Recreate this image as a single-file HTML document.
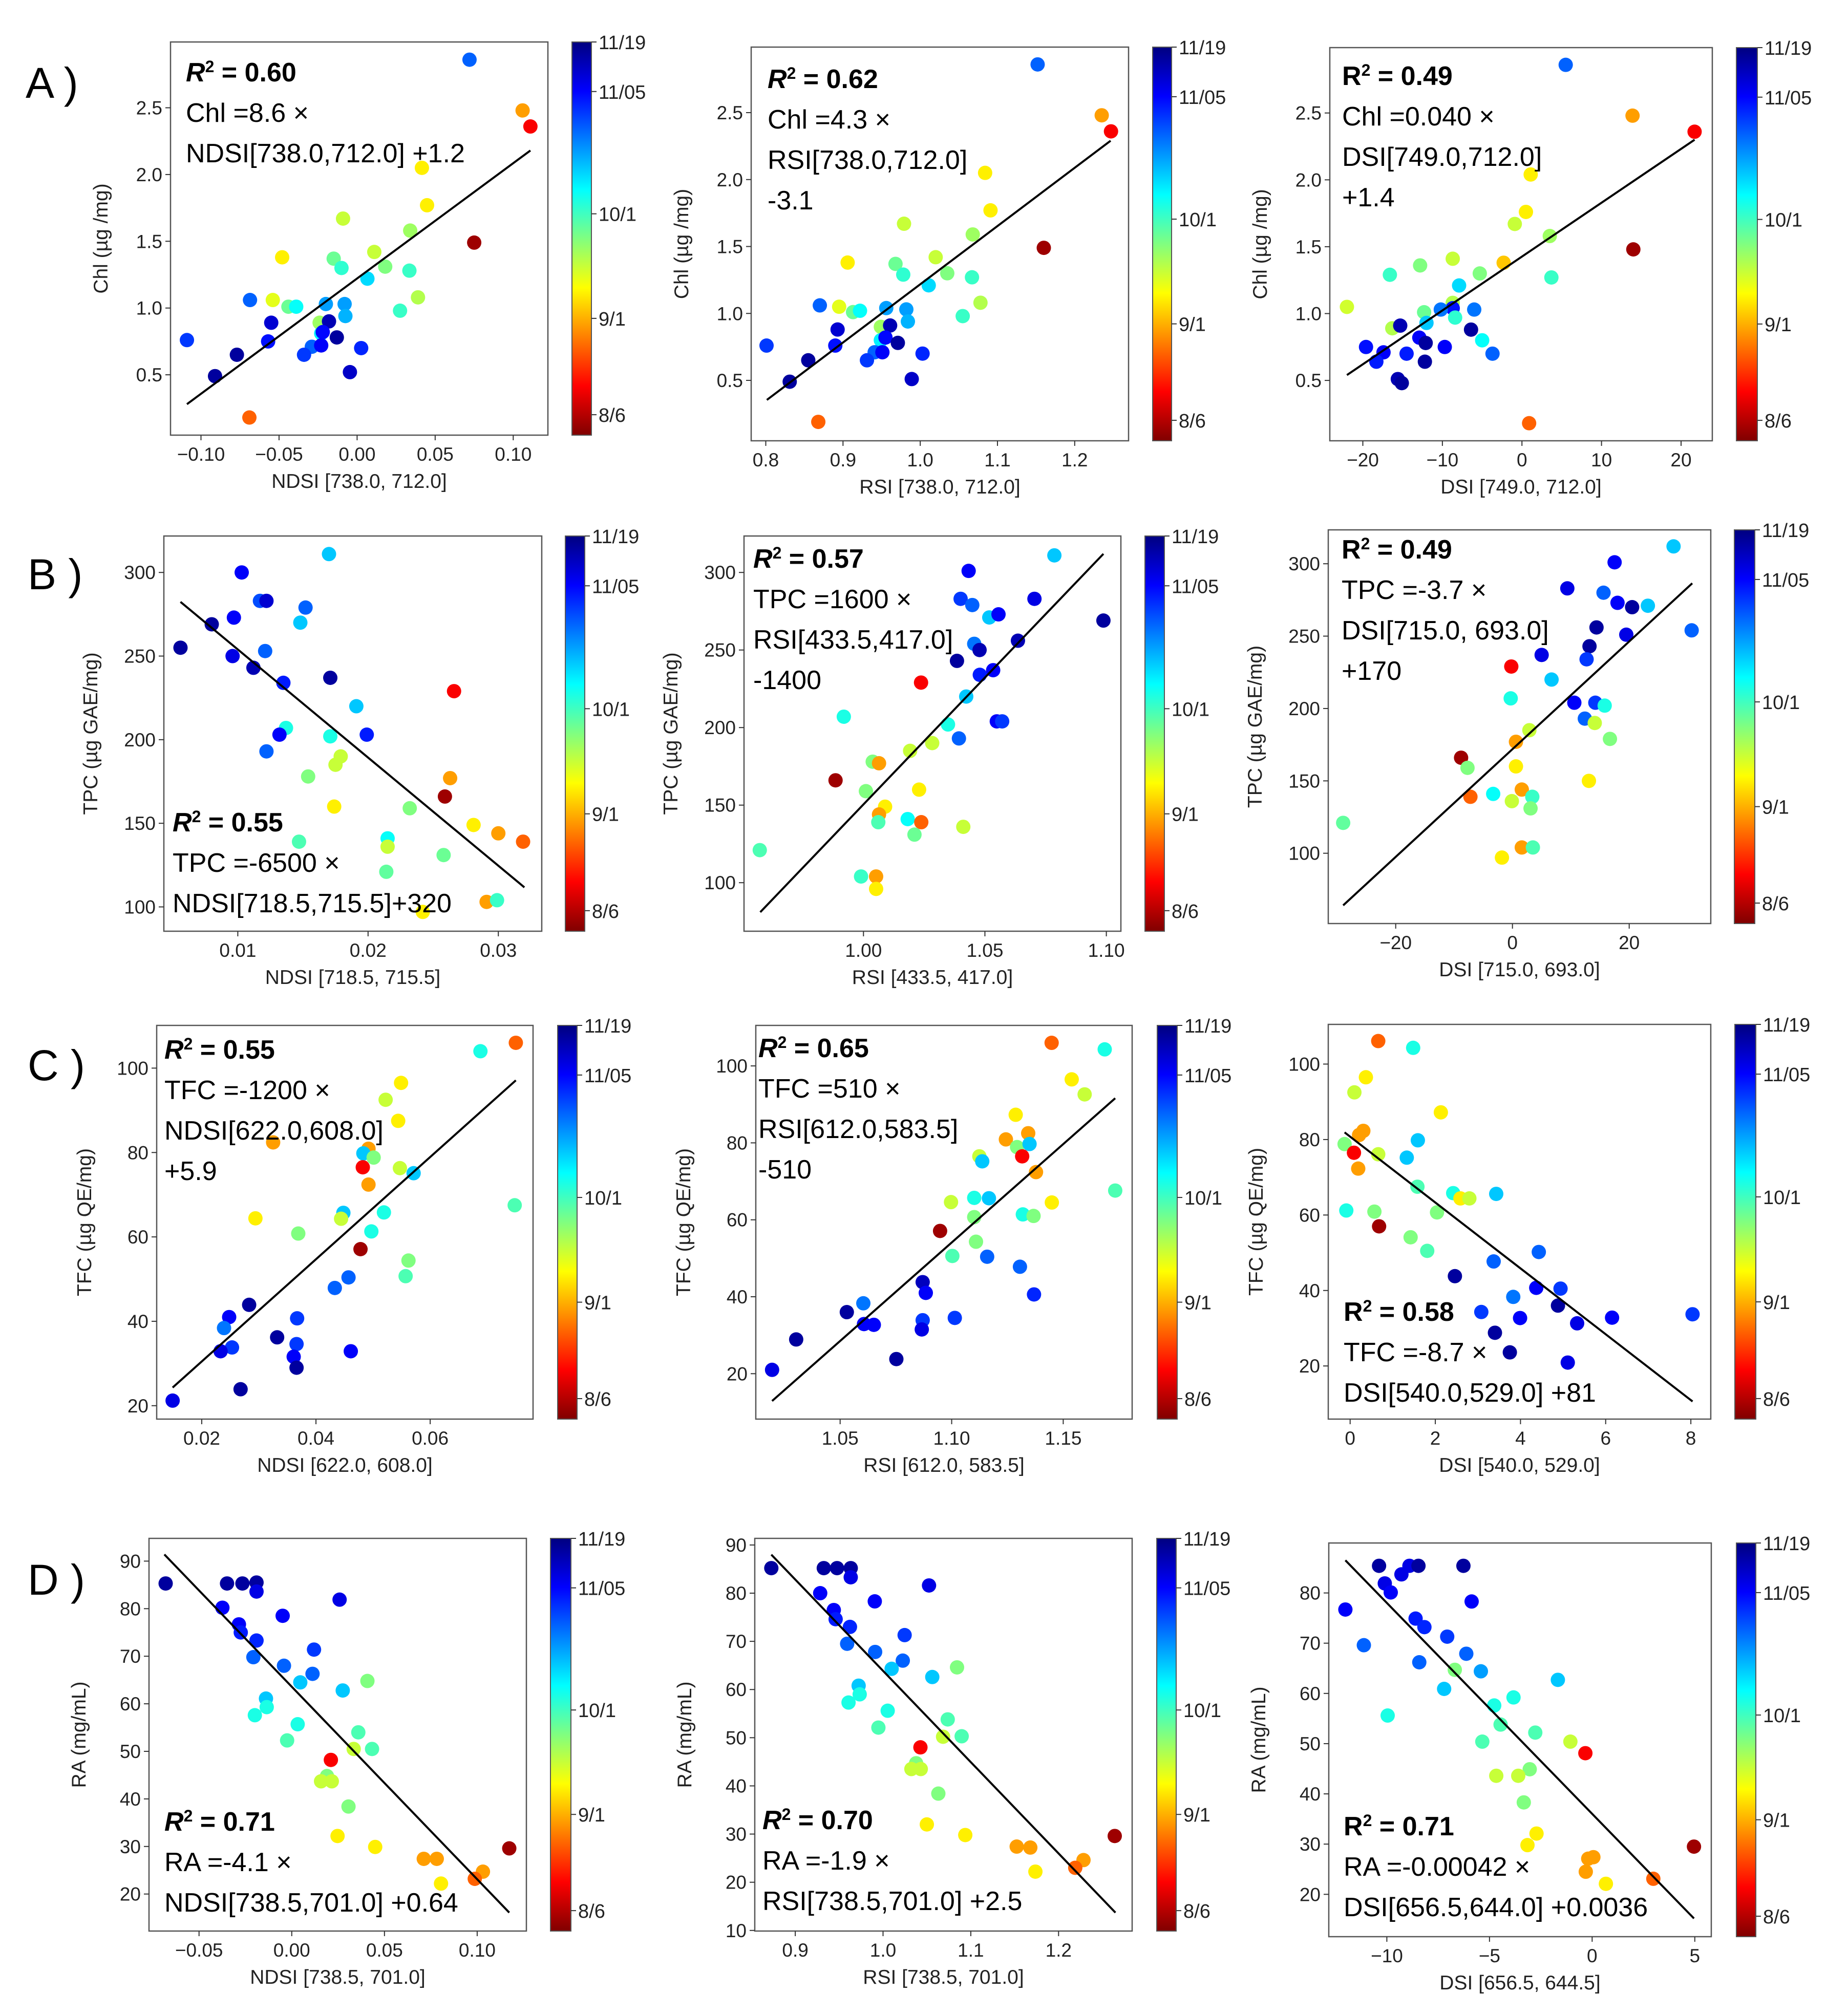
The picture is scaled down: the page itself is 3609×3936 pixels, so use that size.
<!DOCTYPE html>
<html><head><meta charset="utf-8"><title>Vegetation index regressions</title>
<style>
html,body{margin:0;padding:0;background:#fff;}
svg{display:block;font-family:"Liberation Sans",Arial,sans-serif;}
</style></head>
<body>
<svg id="fig" width="3609" height="3936" viewBox="0 0 3609 3936" xmlns="http://www.w3.org/2000/svg">
<defs>
<linearGradient id="jetgrad" x1="0" y1="1" x2="0" y2="0">
<stop offset="0" stop-color="rgb(128,0,0)"/>
<stop offset="0.125" stop-color="rgb(255,0,0)"/>
<stop offset="0.375" stop-color="rgb(255,255,0)"/>
<stop offset="0.5" stop-color="rgb(128,255,128)"/>
<stop offset="0.625" stop-color="rgb(0,255,255)"/>
<stop offset="0.875" stop-color="rgb(0,0,255)"/>
<stop offset="1" stop-color="rgb(0,0,128)"/>
</linearGradient>
</defs>
<text x="50" y="191" font-size="84">A )</text>
<text x="54" y="1151" font-size="84">B )</text>
<text x="54" y="2110" font-size="84">C )</text>
<text x="54" y="3115" font-size="84">D )</text>
</svg>
<script>
// ---------- data ----------
const a1X=[0.072,0.106,0.111,0.0415,0.0448,-0.009,0.034,0.075,-0.048,-0.015,0.011,-0.01,0.018,0.0335,0.0066,0.039,-0.0686,-0.054,-0.044,-0.039,-0.02,-0.008,0.0275,-0.0075,-0.055,-0.024,-0.018,-0.023,-0.022,-0.013,-0.057,-0.109,-0.029,-0.023,0.0026,-0.077,-0.034,-0.0046,-0.091,-0.069];
const a1Y=[2.86,2.48,2.36,2.05,1.77,1.67,1.58,1.49,1.38,1.37,1.42,1.30,1.31,1.28,1.22,1.08,1.06,1.06,1.01,1.01,1.03,1.03,0.98,0.94,0.89,0.89,0.90,0.81,0.82,0.78,0.75,0.76,0.71,0.72,0.70,0.65,0.65,0.52,0.49,0.18];
const a1T=[0.78,0.28,0.12,0.36,0.36,0.43,0.47,0.03,0.36,0.52,0.43,0.58,0.5,0.57,0.66,0.45,0.78,0.4,0.52,0.62,0.72,0.72,0.57,0.7,0.92,0.47,0.95,0.64,0.87,0.97,0.86,0.82,0.78,0.88,0.84,0.97,0.82,0.93,0.97,0.22];
const a1LX=[-0.109,0.111], a1LY=[0.28,2.18];

const a2X=[1.152,1.235,1.247,1.084,1.091,0.979,1.068,1.16,0.906,0.968,1.02,0.978,1.035,1.067,1.011,1.078,0.870,0.895,0.913,0.922,0.956,0.982,1.055,0.984,0.893,0.949,0.961,0.949,0.955,0.971,0.890,0.801,0.941,0.951,1.003,0.855,0.931,0.989,0.831,0.868];
const a2Y=[2.86,2.48,2.36,2.05,1.77,1.67,1.59,1.49,1.38,1.37,1.42,1.29,1.30,1.27,1.21,1.08,1.06,1.05,1.01,1.02,1.04,1.03,0.98,0.94,0.88,0.90,0.91,0.80,0.82,0.78,0.76,0.76,0.71,0.71,0.70,0.65,0.65,0.51,0.49,0.19];
const a2T=[0.78,0.28,0.12,0.36,0.36,0.43,0.47,0.03,0.36,0.52,0.43,0.58,0.5,0.57,0.66,0.45,0.78,0.4,0.52,0.62,0.72,0.72,0.57,0.7,0.92,0.47,0.95,0.64,0.87,0.97,0.86,0.82,0.78,0.88,0.84,0.97,0.82,0.93,0.97,0.22];
const a2LX=[0.8014,1.2465], a2LY=[0.354,2.29];

const a3X=[5.5,13.9,21.7,1.1,0.5,-0.9,3.5,14,-8.7,-12.8,-2.3,-16.6,-5.3,3.7,-7.9,-22,-8.7,-8.7,-10.2,-6,-12.3,-8.4,-12,-16.3,-15.3,-6.4,-12.9,-12.1,-5,-19.6,-9.7,-17.4,-14.5,-3.7,-18.3,-12.2,-15.6,-15.1,0.9];
const a3Y=[2.86,2.48,2.36,2.04,1.76,1.67,1.58,1.48,1.41,1.36,1.38,1.29,1.30,1.27,1.21,1.05,1.08,1.04,1.03,1.03,1.01,0.97,0.93,0.89,0.91,0.88,0.82,0.78,0.80,0.75,0.75,0.71,0.70,0.70,0.64,0.64,0.51,0.48,0.18];
const a3T=[0.78,0.28,0.12,0.36,0.36,0.43,0.47,0.03,0.43,0.5,0.32,0.57,0.5,0.57,0.66,0.42,0.45,0.86,0.76,0.76,0.52,0.58,0.68,0.45,0.95,0.97,0.88,0.97,0.62,0.86,0.88,0.88,0.85,0.78,0.85,0.97,0.95,0.97,0.22];
const a3LX=[-22,21.7], a3LY=[0.54,2.30];

const b1X=[0.0170,0.0103,0.0117,0.0122,0.0152,0.0097,0.0148,0.0080,0.0056,0.0121,0.0096,0.0112,0.0171,0.0135,0.0266,0.0191,0.0137,0.0132,0.0171,0.0199,0.0122,0.0179,0.0175,0.0154,0.0263,0.0259,0.0174,0.0232,0.0281,0.0300,0.0319,0.0147,0.0215,0.0215,0.0258,0.0214,0.0291,0.0299,0.0242];
const b1Y=[311,300,283,283,279,273,270,269,255,253,250,243,237,234,229,220,207,203,202,203,193,190,185,178,177,166,160,159,149,144,139,139,141,136,131,121,103,104,97];
const b1T=[0.68,0.88,0.8,0.92,0.78,0.88,0.68,0.97,0.97,0.78,0.9,0.95,0.97,0.85,0.12,0.68,0.6,0.88,0.6,0.85,0.78,0.43,0.43,0.5,0.28,0.03,0.36,0.5,0.36,0.28,0.22,0.55,0.62,0.43,0.52,0.53,0.28,0.57,0.36];
const b1LX=[0.0056,0.032], b1LY=[282.4,111.7];

const b2X=[1.0786,1.0433,1.040,1.0448,1.0704,1.0518,1.0556,1.0988,1.0456,1.0478,1.0636,1.0385,1.0534,1.0479,1.0237,1.0423,0.9919,1.0348,1.0549,1.0571,1.0393,1.0283,1.0192,1.0038,1.0064,0.9885,1.0229,1.0010,1.0089,1.0064,1.0061,1.0182,1.0238,1.0411,1.0210,0.9573,0.9990,1.0052,1.0052];
const b2Y=[311,301,283,279,283,271,273,269,254,250,256,243,237,234,229,220,207,202,204,204,193,190,185,178,177,166,160,159,149,144,139,141,139,136,131,121,104,104,96];
const b2T=[0.68,0.88,0.82,0.78,0.9,0.68,0.88,0.97,0.76,0.95,0.95,0.97,0.88,0.85,0.12,0.68,0.6,0.6,0.88,0.82,0.78,0.43,0.43,0.5,0.28,0.03,0.36,0.5,0.36,0.28,0.55,0.62,0.22,0.43,0.52,0.55,0.57,0.28,0.36];
const b2LX=[0.9575,1.0988], b2LY=[81,312];

const b3X=[27.6,17.5,9.4,15.6,18.0,20.5,23.2,14.4,30.7,19.5,13.2,5.0,12.7,-0.2,6.7,-0.3,10.6,14.2,15.8,12.4,14.1,2.9,16.7,0.6,-8.8,-7.7,0.6,13.1,1.6,-3.3,3.4,-7.2,-0.1,3.1,-29,1.6,3.5,-1.8];
const b3Y=[312,301,283,280,273,270,271,256,254,251,243,237,234,229,220,207,204,204,202,193,190,185,179,177,166,159,160,150,144,141,139,139,136,131,121,104,104,97];
const b3T=[0.68,0.88,0.9,0.78,0.88,0.97,0.68,0.97,0.78,0.9,0.97,0.9,0.82,0.12,0.68,0.6,0.88,0.82,0.6,0.78,0.43,0.43,0.5,0.28,0.03,0.5,0.36,0.36,0.28,0.62,0.57,0.22,0.43,0.5,0.53,0.28,0.55,0.36];
const b3LX=[-29,30.8], b3LY=[64,286.5];

const c1X=[0.0750,0.0688,0.0549,0.0522,0.0544,0.0325,0.0492,0.0483,0.0501,0.0482,0.0547,0.0571,0.0492,0.0748,0.0448,0.0444,0.0519,0.0294,0.0497,0.0369,0.0478,0.0562,0.0557,0.0457,0.0433,0.0283,0.0248,0.0367,0.0239,0.0332,0.0366,0.0253,0.0233,0.0461,0.0361,0.0366,0.0268,0.0149];
const c1Y=[106,104,96.5,92.5,87.5,82.4,80.9,79.8,78.8,76.5,76.3,75.1,72.4,67.5,65.7,64.3,65.8,64.4,61.3,60.8,57.1,54.4,50.7,50.4,47.9,43.9,41.0,40.7,38.4,36.2,34.6,33.8,32.9,32.9,31.6,29.0,23.9,21.2];
const c1T=[0.22,0.6,0.36,0.43,0.36,0.28,0.28,0.68,0.5,0.12,0.43,0.68,0.28,0.55,0.68,0.43,0.6,0.36,0.6,0.5,0.03,0.5,0.55,0.78,0.78,0.97,0.88,0.82,0.76,0.97,0.82,0.82,0.9,0.88,0.88,0.97,0.97,0.9];
const c1LX=[0.0149,0.075], c1LY=[24.3,97.1];

const c2X=[1.1448,1.1686,1.1538,1.1596,1.1287,1.1343,1.1243,1.1293,1.1349,1.1316,1.1124,1.1137,1.1378,1.1733,1.1101,1.1167,1.0997,1.1449,1.1319,1.1367,1.1101,1.0948,1.1109,1.1003,1.1159,1.1306,1.0870,1.0884,1.1369,1.0604,1.0530,1.1014,1.0870,1.0607,1.0651,1.0866,1.0303,1.0752,1.0195];
const c2Y=[106,104.3,96.5,92.6,87.3,82.5,80.9,78.9,79.7,76.5,76.5,75.2,72.4,67.6,65.7,65.6,64.6,64.5,61.4,61.0,60.7,57.1,54.3,50.6,50.4,47.8,43.8,41.0,40.6,38.3,36.0,34.5,33.9,32.9,32.7,31.5,28.9,23.8,21.0];
const c2T=[0.22,0.6,0.36,0.43,0.36,0.28,0.28,0.5,0.68,0.12,0.43,0.68,0.28,0.55,0.6,0.68,0.43,0.36,0.6,0.5,0.5,0.03,0.5,0.55,0.78,0.78,0.94,0.88,0.84,0.76,0.97,0.82,0.82,0.88,0.88,0.9,0.97,0.97,0.9];
const c2LX=[1.0195,1.1733], c2LY=[12.9,91.6];

const c3X=[0.66,1.48,0.37,0.10,2.13,0.31,0.21,1.59,-0.13,0.66,0.09,1.33,0.19,1.58,2.42,2.59,2.80,3.43,-0.09,0.57,2.04,0.68,1.42,1.81,4.43,3.37,2.46,4.37,4.94,3.83,4.88,3.08,8.04,3.99,6.15,5.33,3.40,3.75,5.11];
const c3Y=[106.1,104.3,96.5,92.5,87.2,82.3,81.2,79.8,78.8,76.1,76.5,75.2,72.3,67.5,65.8,64.4,64.4,65.6,61.2,60.9,60.7,57.0,54.1,50.5,50.2,47.7,43.8,40.7,40.5,38.3,36.0,34.3,33.7,32.7,32.8,31.3,28.8,23.6,20.9];
const c3T=[0.22,0.6,0.36,0.43,0.36,0.28,0.28,0.68,0.5,0.43,0.12,0.68,0.28,0.55,0.6,0.36,0.43,0.68,0.6,0.5,0.5,0.03,0.5,0.55,0.78,0.78,0.97,0.88,0.82,0.76,0.97,0.82,0.82,0.88,0.88,0.9,0.97,0.97,0.9];
const c3LX=[-0.13,8.04], c3LY=[81.9,10.6];

const d1X=[-0.068,-0.0349,-0.0266,-0.019,-0.019,0.0258,-0.0374,-0.0049,-0.0285,-0.0275,-0.019,0.012,-0.0207,-0.0042,0.0112,0.0046,0.0408,0.0275,-0.0139,-0.0135,-0.0199,0.0032,0.0359,-0.0025,0.0334,0.0433,0.0211,0.019,0.0158,0.0216,0.0306,0.0247,0.045,0.1173,0.0712,0.0782,0.1031,0.0987,0.0805];
const d1Y=[85.3,85.3,85.3,85.5,83.6,81.9,80.2,78.5,76.7,75.0,73.3,71.4,69.8,68.0,66.3,64.5,64.8,62.8,61.1,59.3,57.6,55.7,54.0,52.3,50.5,50.5,48.2,44.8,43.7,43.7,38.4,32.2,29.9,29.6,27.4,27.4,24.7,23.2,22.2];
const d1T=[0.97,0.97,0.97,0.97,0.9,0.9,0.88,0.88,0.88,0.85,0.84,0.82,0.78,0.78,0.78,0.68,0.5,0.68,0.68,0.6,0.6,0.6,0.55,0.55,0.43,0.55,0.12,0.5,0.43,0.43,0.5,0.36,0.36,0.03,0.28,0.28,0.28,0.22,0.36];
const d1LX=[-0.0687,0.1173], d1LY=[91.4,16.1];

const d2X=[0.8727,0.9325,0.9476,0.9632,0.9632,1.0524,0.9284,0.9906,0.9439,0.946,0.9623,1.0246,0.9591,0.991,1.0225,1.0098,1.0843,1.0561,0.9722,0.9734,0.9607,1.0053,1.0737,0.9947,1.0684,1.0896,1.0426,1.0377,1.0323,1.043,1.063,1.0499,1.0937,1.264,1.1523,1.1678,1.2284,1.219,1.1736];
const d2Y=[85.2,85.2,85.2,85.2,83.3,81.6,80.0,78.3,76.5,74.6,73.0,71.3,69.5,67.8,66.0,64.3,64.6,62.6,60.8,59.0,57.3,55.6,53.8,52.1,50.2,50.3,48.0,44.7,43.5,43.5,38.4,32.0,29.8,29.6,27.4,27.2,24.6,23.0,22.2];
const d2T=[0.97,0.97,0.97,0.97,0.9,0.9,0.88,0.88,0.88,0.85,0.84,0.82,0.78,0.78,0.78,0.68,0.5,0.68,0.68,0.6,0.6,0.6,0.55,0.55,0.43,0.55,0.12,0.5,0.43,0.43,0.5,0.36,0.36,0.03,0.28,0.28,0.28,0.22,0.36];
const d2LX=[0.8727,1.2648], d2LY=[88.0,13.7];

const d3X=[-10.38,-8.90,-8.46,-6.27,-9.29,-10.10,-9.81,-5.87,-12.02,-8.60,-8.17,-7.06,-11.12,-6.13,-8.42,-6.69,-5.42,-1.67,-7.21,-3.83,-4.77,-9.96,-4.46,-2.77,-5.35,-1.06,-0.33,-3.04,-4.67,-3.60,-3.33,-2.71,-3.15,4.96,-0.19,0.06,-0.31,2.98,0.67];
const d3Y=[85.4,85.4,85.4,85.4,83.7,81.9,80.1,78.3,76.7,74.9,73.2,71.3,69.6,67.9,66.2,64.7,64.4,62.7,60.9,59.2,57.6,55.6,53.8,52.2,50.4,50.4,48.1,44.9,43.6,43.6,38.3,32.1,29.8,29.5,27.1,27.4,24.5,23.1,22.1];
const d3T=[0.97,0.9,0.97,0.97,0.9,0.9,0.88,0.88,0.88,0.85,0.84,0.82,0.78,0.78,0.78,0.5,0.72,0.68,0.68,0.6,0.6,0.6,0.55,0.55,0.55,0.43,0.12,0.5,0.43,0.43,0.5,0.36,0.36,0.03,0.28,0.28,0.28,0.22,0.36];
const d3LX=[-12.02,4.96], d3LY=[86.5,15.2];

// tick values and labels
const xtA1=[-0.10,-0.05,0,0.05,0.10], xlA1=['\u22120.10','\u22120.05','0.00','0.05','0.10'];
const xtA2=[0.8,0.9,1.0,1.1,1.2], xlA2=['0.8','0.9','1.0','1.1','1.2'];
const xtA3=[-20,-10,0,10,20], xlA3=['\u221220','\u221210','0','10','20'];
const ytA=[0.5,1.0,1.5,2.0,2.5], ylA=['0.5','1.0','1.5','2.0','2.5'];
const xtB1=[0.01,0.02,0.03], xlB1=['0.01','0.02','0.03'];
const xtB2=[1.00,1.05,1.10], xlB2=['1.00','1.05','1.10'];
const xtB3=[-20,0,20], xlB3=['\u221220','0','20'];
const ytB=[100,150,200,250,300], ylB=['100','150','200','250','300'];
const xtC1=[0.02,0.04,0.06], xlC1=['0.02','0.04','0.06'];
const xtC2=[1.05,1.10,1.15], xlC2=['1.05','1.10','1.15'];
const xtC3=[0,2,4,6,8], xlC3=['0','2','4','6','8'];
const ytC=[20,40,60,80,100], ylC=['20','40','60','80','100'];
const xtD1=[-0.05,0,0.05,0.10], xlD1=['\u22120.05','0.00','0.05','0.10'];
const xtD2=[0.9,1.0,1.1,1.2], xlD2=['0.9','1.0','1.1','1.2'];
const xtD3=[-10,-5,0,5], xlD3=['\u221210','\u22125','0','5'];
const ytD1=[20,30,40,50,60,70,80,90], ylD1=['20','30','40','50','60','70','80','90'];
const ytD2=[10,20,30,40,50,60,70,80,90], ylD2=['10','20','30','40','50','60','70','80','90'];
const ytD3=[20,30,40,50,60,70,80], ylD3=['20','30','40','50','60','70','80'];
const cbFrac=[1,0.874,0.563,0.297,0.052], cbLab=['11/19','11/05','10/1','9/1','8/6'];

// ---------- rendering ----------
const NS='http://www.w3.org/2000/svg';
const svg=document.getElementById('fig');
function el(tag,attrs,parent){const e=document.createElementNS(NS,tag);for(const k in attrs)e.setAttribute(k,attrs[k]);(parent||svg).appendChild(e);return e;}
// t: 0 = 8/6 (dark red) ... 1 = 11/19 (navy)
function jet(t){const u=1-t;const c=x=>Math.round(255*Math.max(0,Math.min(1,x)));return 'rgb('+c(1.5-Math.abs(4*u-3))+','+c(1.5-Math.abs(4*u-2))+','+c(1.5-Math.abs(4*u-1))+')';}

function drawPanel(id,g,xs,ys,ts,lx,ly,xt,xl,yt,yl,xlabel,ylabel,lines,italicR){
  const grp=el('g',{});
  
  
  const sx=v=>g.xp[0]+(v-g.xv[0])*(g.xp[1]-g.xp[0])/(g.xv[1]-g.xv[0]);
  const sy=v=>g.yp[0]+(v-g.yv[0])*(g.yp[1]-g.yp[0])/(g.yv[1]-g.yv[0]);
  const L=g.bx,T=g.by,R=g.bx+g.bw,B=g.by+g.bh;
  const frame=el('rect',{x:L,y:T,width:g.bw,height:g.bh,fill:'#fff',stroke:'#555','stroke-width':2.5},grp);
  
  
  for(let i=0;i<xt.length;i++){
    const x=sx(xt[i]);
    const tk=el('line',{x1:x,y1:B,x2:x,y2:B+10,stroke:'#333','stroke-width':2},grp);
    
    
    const tl=el('text',{x:x,y:B+50,'font-size':37,'text-anchor':'middle',fill:'#222'},grp);
    tl.textContent=xl[i];
    
    
  }
  for(let i=0;i<yt.length;i++){
    const y=sy(yt[i]);
    const tk=el('line',{x1:L-10,y1:y,x2:L,y2:y,stroke:'#333','stroke-width':2},grp);
    
    
    const tl=el('text',{x:L-16,y:y+13,'font-size':37,'text-anchor':'end',fill:'#222'},grp);
    tl.textContent=yl[i];
    
    
  }
  const xa=el('text',{x:L+g.bw/2,y:B+103,'font-size':39,'text-anchor':'middle',fill:'#222'},grp);
  xa.textContent=xlabel;
  
  
  const cy=T+g.bh/2, cx=L-g.yl;
  const ya=el('text',{x:cx,y:cy,'font-size':39,'text-anchor':'middle',fill:'#222',transform:'rotate(-90 '+cx+' '+cy+')'},grp);
  ya.textContent=ylabel;
  
  
  for(let i=0;i<xs.length;i++){
    const c=el('circle',{cx:sx(xs[i]),cy:sy(ys[i]),r:14,fill:jet(ts[i])},grp);
    
    
  }
  const fl=el('line',{x1:sx(lx[0]),y1:sy(ly[0]),x2:sx(lx[1]),y2:sy(ly[1]),stroke:'#000','stroke-width':4},grp);
  
  
  for(let i=0;i<lines.length;i++){
    const t=el('text',{x:g.tx,y:g.ty+i*79,'font-size':52,fill:'#000'},grp);
    if(i===0){
      t.setAttribute('font-weight','bold');
      const r=el('tspan',{'font-style':italicR?'italic':'normal'},t);r.textContent='R';
      const s=el('tspan',{'baseline-shift':'super','font-size':32},t);s.textContent='2';
      const v=el('tspan',{},t);v.textContent=' = '+lines[0];
      
    } else {
      t.textContent=lines[i];
      
    }
    
  }
  const cb=el('rect',{x:g.cbx,y:T,width:g.cbw,height:g.bh,fill:'url(#jetgrad)',stroke:'#555','stroke-width':2},grp);
  
  
  for(let i=0;i<cbFrac.length;i++){
    const y=B-cbFrac[i]*g.bh;
    const tk=el('line',{x1:g.cbx+g.cbw,y1:y,x2:g.cbx+g.cbw+10,y2:y,stroke:'#333','stroke-width':2},grp);
    
    
    const tl=el('text',{x:g.cbx+g.cbw+14,y:y+14,'font-size':38,fill:'#222'},grp);
    tl.textContent=cbLab[i];
    
    
  }
}

const G={
 a1:{bx:333,by:82,bw:737,bh:768,cbx:1117,cbw:38,xv:[-0.10,0.10],xp:[392.5,1002.3],yv:[2.5,0.5],yp:[210.5,732.1],tx:363,ty:159,yl:123},
 a2:{bx:1467,by:92,bw:737,bh:769,cbx:2251,cbw:37,xv:[0.8,1.2],xp:[1495.5,2098.8],yv:[2.5,0.5],yp:[220,743],tx:1499,ty:172,yl:123},
 a3:{bx:2597,by:93,bw:747,bh:768,cbx:3391,cbw:41,xv:[-20,20],xp:[2661.5,3283],yv:[2.5,0.5],yp:[220.7,743.1],tx:2621,ty:166,yl:123},
 b1:{bx:320,by:1047,bw:738,bh:772,cbx:1104,cbw:38,xv:[0.01,0.03],xp:[464.4,973.2],yv:[300,100],yp:[1118.2,1771.5],tx:337,ty:1624,yl:130},
 b2:{bx:1453,by:1047,bw:736,bh:772,cbx:2236,cbw:38,xv:[1.00,1.10],xp:[1686.3,2160.6],yv:[300,100],yp:[1118.2,1724.2],tx:1471,ty:1109,yl:130},
 b3:{bx:2594,by:1035,bw:747,bh:769,cbx:3387,cbw:40,xv:[-20,20],xp:[2725.7,3181.7],yv:[300,100],yp:[1101.2,1666.7],tx:2620,ty:1091,yl:130},
 c1:{bx:306,by:2003,bw:735,bh:769,cbx:1089,cbw:38,xv:[0.02,0.06],xp:[394.0,840.1],yv:[100,20],yp:[2086.4,2745.8],tx:321,ty:2068,yl:128},
 c2:{bx:1476,by:2003,bw:735,bh:769,cbx:2260,cbw:39,xv:[1.05,1.15],xp:[1640.7,2076.4],yv:[100,20],yp:[2082.1,2683.3],tx:1481,ty:2065,yl:128},
 c3:{bx:2594,by:2001,bw:747,bh:771,cbx:3388,cbw:41,xv:[0,8],xp:[2636.7,3302.1],yv:[100,20],yp:[2078.5,2668.2],tx:2624,ty:2580,yl:128},
 d1:{bx:291,by:3005,bw:737,bh:767,cbx:1075,cbw:40,xv:[-0.05,0.10],xp:[388.7,931.9],yv:[90,20],yp:[3049.4,3699.7],tx:321,ty:3576,yl:124},
 d2:{bx:1474,by:3005,bw:737,bh:767,cbx:2259,cbw:38,xv:[0.9,1.2],xp:[1553.1,2067.3],yv:[90,10],yp:[3017.9,3770.8],tx:1489,ty:3573,yl:124},
 d3:{bx:2595,by:3014,bw:747,bh:769,cbx:3391,cbw:38,xv:[-10,5],xp:[2708.4,3309.8],yv:[80,20],yp:[3111.6,3700.3],tx:2624,ty:3585,yl:124}
};

drawPanel('a1',G.a1,a1X,a1Y,a1T,a1LX,a1LY,xtA1,xlA1,ytA,ylA,'NDSI [738.0, 712.0]','Chl (\u00b5g /mg)',['0.60','Chl =8.6 \u00d7','NDSI[738.0,712.0]  +1.2'],true);
drawPanel('a2',G.a2,a2X,a2Y,a2T,a2LX,a2LY,xtA2,xlA2,ytA,ylA,'RSI [738.0, 712.0]','Chl (\u00b5g /mg)',['0.62','Chl =4.3 \u00d7','RSI[738.0,712.0]','  -3.1'],true);
drawPanel('a3',G.a3,a3X,a3Y,a3T,a3LX,a3LY,xtA3,xlA3,ytA,ylA,'DSI [749.0, 712.0]','Chl (\u00b5g /mg)',['0.49','Chl =0.040 \u00d7','DSI[749.0,712.0]','+1.4'],false);
drawPanel('b1',G.b1,b1X,b1Y,b1T,b1LX,b1LY,xtB1,xlB1,ytB,ylB,'NDSI [718.5, 715.5]','TPC (\u00b5g GAE/mg)',['0.55','TPC =-6500 \u00d7','NDSI[718.5,715.5]+320'],true);
drawPanel('b2',G.b2,b2X,b2Y,b2T,b2LX,b2LY,xtB2,xlB2,ytB,ylB,'RSI [433.5, 417.0]','TPC (\u00b5g GAE/mg)',['0.57','TPC =1600 \u00d7','RSI[433.5,417.0]','-1400'],true);
drawPanel('b3',G.b3,b3X,b3Y,b3T,b3LX,b3LY,xtB3,xlB3,ytB,ylB,'DSI [715.0, 693.0]','TPC (\u00b5g GAE/mg)',['0.49','TPC =-3.7 \u00d7','DSI[715.0,   693.0]','+170'],false);
drawPanel('c1',G.c1,c1X,c1Y,c1T,c1LX,c1LY,xtC1,xlC1,ytC,ylC,'NDSI [622.0, 608.0]','TFC (\u00b5g QE/mg)',['0.55','TFC =-1200 \u00d7','NDSI[622.0,608.0]','+5.9'],true);
drawPanel('c2',G.c2,c2X,c2Y,c2T,c2LX,c2LY,xtC2,xlC2,ytC,ylC,'RSI [612.0, 583.5]','TFC (\u00b5g QE/mg)',['0.65','TFC =510 \u00d7','RSI[612.0,583.5]','-510'],true);
drawPanel('c3',G.c3,c3X,c3Y,c3T,c3LX,c3LY,xtC3,xlC3,ytC,ylC,'DSI [540.0, 529.0]','TFC (\u00b5g QE/mg)',['0.58','TFC =-8.7 \u00d7','DSI[540.0,529.0] +81'],false);
drawPanel('d1',G.d1,d1X,d1Y,d1T,d1LX,d1LY,xtD1,xlD1,ytD1,ylD1,'NDSI [738.5, 701.0]','RA (mg/mL)',['0.71','RA =-4.1 \u00d7','NDSI[738.5,701.0] +0.64'],true);
drawPanel('d2',G.d2,d2X,d2Y,d2T,d2LX,d2LY,xtD2,xlD2,ytD2,ylD2,'RSI [738.5, 701.0]','RA (mg/mL)',['0.70','RA =-1.9 \u00d7','RSI[738.5,701.0] +2.5'],true);
drawPanel('d3',G.d3,d3X,d3Y,d3T,d3LX,d3LY,xtD3,xlD3,ytD3,ylD3,'DSI [656.5, 644.5]','RA (mg/mL)',['0.71','RA =-0.00042 \u00d7','DSI[656.5,644.0] +0.0036'],false);
</script>
</body></html>
